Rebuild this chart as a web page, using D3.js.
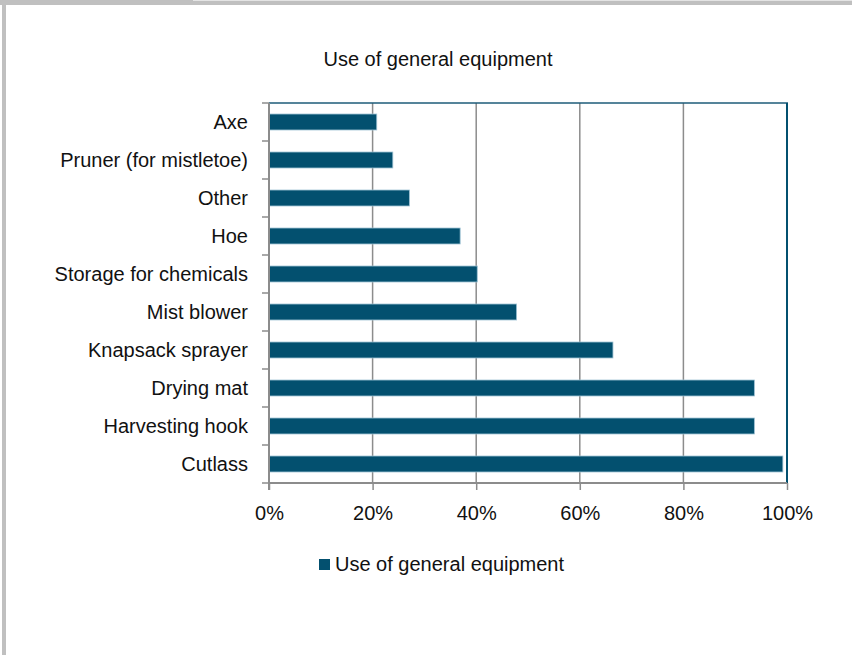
<!DOCTYPE html>
<html>
<head>
<meta charset="utf-8">
<script src="https://cdn.jsdelivr.net/npm/d3@7"></script>
<style>
  html, body { margin: 0; padding: 0; background: #fff; }
  svg { display: block; }
  text { font-family: "Liberation Sans Narrow", "Arial Narrow", "Liberation Sans", sans-serif; fill: #111; }
</style>
</head>
<body>
<svg id="chart" width="852" height="655"></svg>
<script>
// Share of respondents using each piece of general equipment (%)
const categories = ["Axe", "Pruner (for mistletoe)", "Other", "Hoe", "Storage for chemicals",
                    "Mist blower", "Knapsack sprayer", "Drying mat", "Harvesting hook", "Cutlass"];
const values = [20.8, 23.9, 27.1, 36.9, 40.2, 47.8, 66.4, 93.7, 93.7, 99.2];
const xTicks = [0, 20, 40, 60, 80, 100];
const seriesName = "Use of general equipment";
const chartTitle = "Use of general equipment";

const svg = d3.select("#chart");
const W = 852, H = 655;
const plot = { left: 269, right: 787, top: 103, bottom: 483 };
const barColor = "#03506f";
const gridColor = "#8c8c8c";

// outer frame
svg.append("rect").attr("x", 0).attr("y", 0).attr("width", 193).attr("height", 5).attr("fill", "#c0c0c0");
svg.append("rect").attr("x", 193).attr("y", 0).attr("width", W - 193).attr("height", 1).attr("fill", "#e4e4e4");
svg.append("rect").attr("x", 193).attr("y", 1).attr("width", W - 193).attr("height", 4).attr("fill", "#c0c0c0");
svg.append("rect").attr("x", 2).attr("y", 0).attr("width", 4).attr("height", H).attr("fill", "#c0c0c0");

const x = d3.scaleLinear().domain([0, 100]).range([plot.left, plot.right]);
const y = d3.scaleBand().domain(categories).range([plot.top, plot.bottom]).paddingInner(0.58).paddingOuter(0.29);

// title
svg.append("text").attr("x", 438).attr("y", 66).attr("text-anchor", "middle")
  .style("font-size", "20px").text(chartTitle);

// vertical gridlines
svg.append("g").selectAll("line").data(xTicks.filter(d => d > 0 && d < 100)).join("line")
  .attr("x1", d => x(d)).attr("x2", d => x(d))
  .attr("y1", plot.top).attr("y2", plot.bottom)
  .attr("stroke", gridColor).attr("stroke-width", 1.5);

// bars
svg.append("g").selectAll("rect").data(categories).join("rect")
  .attr("x", x(0))
  .attr("y", d => y(d))
  .attr("width", (d, i) => x(values[i]) - x(0))
  .attr("height", y.bandwidth())
  .attr("fill", barColor)
  .attr("stroke", "#9cc0d2").attr("stroke-width", 0.8);

// plot border (top & right)
svg.append("line").attr("x1", plot.left).attr("x2", plot.right + 1)
  .attr("y1", plot.top).attr("y2", plot.top).attr("stroke", "#1d5b78").attr("stroke-width", 1.5);
svg.append("line").attr("x1", plot.right).attr("x2", plot.right)
  .attr("y1", plot.top).attr("y2", plot.bottom).attr("stroke", barColor).attr("stroke-width", 2);

// x axis
const xAxis = d3.axisBottom(x).tickValues(xTicks).tickFormat(d => d + "%").tickSize(7).tickPadding(16);
const gx = svg.append("g").attr("transform", `translate(0,${plot.bottom})`).call(xAxis);
gx.select(".domain").attr("stroke", gridColor).attr("stroke-width", 2).attr("d", `M${plot.left},0H${plot.right}`);
gx.selectAll(".tick line").attr("stroke", gridColor).attr("stroke-width", 1.5);
gx.selectAll(".tick text").style("font-size", "20px").attr("fill", "#111");

// y axis: ticks on category boundaries
const yAxisLine = svg.append("g");
yAxisLine.append("line").attr("x1", plot.left).attr("x2", plot.left)
  .attr("y1", plot.top).attr("y2", plot.bottom + 7).attr("stroke", gridColor).attr("stroke-width", 2);
const step = y.step();
const bounds = d3.range(categories.length + 1).map(i => plot.top + i * step);
yAxisLine.selectAll("line.b").data(bounds).join("line").attr("class", "b")
  .attr("x1", plot.left - 7).attr("x2", plot.left)
  .attr("y1", d => d).attr("y2", d => d)
  .attr("stroke", gridColor).attr("stroke-width", 1.5);
svg.append("g").selectAll("text").data(categories).join("text")
  .attr("x", 248).attr("y", d => y(d) + y.bandwidth() / 2)
  .attr("dy", "0.35em").attr("text-anchor", "end")
  .style("font-size", "20px").text(d => d);

// legend
const lg = svg.append("g");
lg.append("rect").attr("x", 319).attr("y", 559).attr("width", 11).attr("height", 11).attr("fill", barColor);
lg.append("text").attr("x", 335).attr("y", 571).style("font-size", "20px").text(seriesName);
</script>
</body>
</html>
